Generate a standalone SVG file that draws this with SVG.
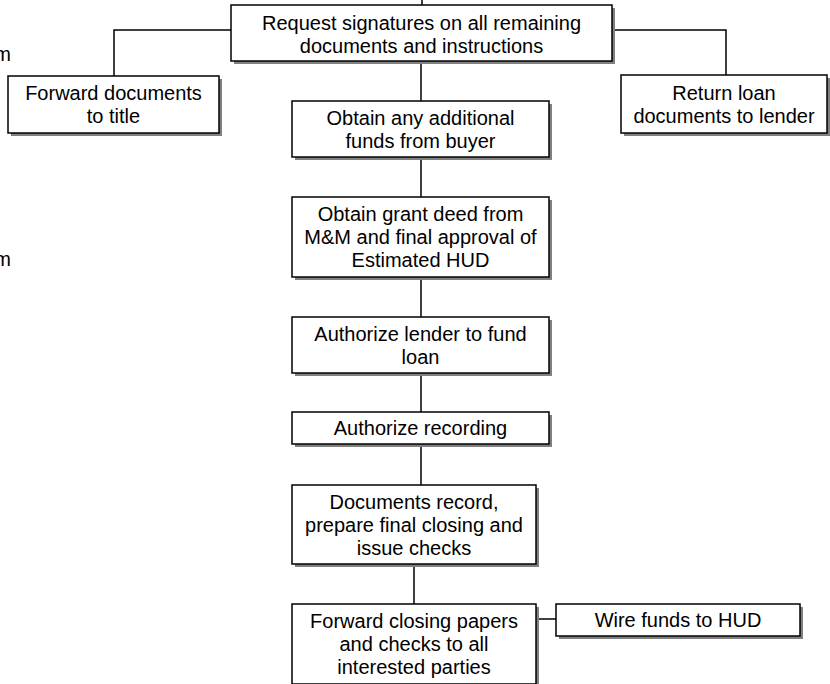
<svg xmlns="http://www.w3.org/2000/svg" width="830" height="684" viewBox="0 0 830 684">
<style>
.sh{fill:#808080;stroke:none}
.bx{fill:#fff;stroke:#000;stroke-width:1.5}
.t{font-family:"Liberation Sans",Arial,sans-serif;font-size:20px;fill:#000;text-anchor:middle}
.c{fill:none;stroke:#000;stroke-width:1.5}
</style>
<rect width="830" height="684" fill="#fff"/>
<text x="11" y="61" class="t" style="text-anchor:end">m</text>
<text x="11" y="266" class="t" style="text-anchor:end">m</text>
<g id="connectors">
<path class="c" d="M422,0 V5"/>
<path class="c" d="M231,30 H114 V76"/>
<path class="c" d="M612,30 H726 V75"/>
<path class="c" d="M421,61 V101"/>
<path class="c" d="M421,157 V197"/>
<path class="c" d="M421,277 V317"/>
<path class="c" d="M421,373 V412"/>
<path class="c" d="M421,444 V485"/>
<path class="c" d="M414,564 V604"/>
<path class="c" d="M536,619 H556"/>
</g>
<g id="n-request">
<rect class="sh" x="234" y="8" width="381" height="56"/>
<rect class="bx" x="231" y="5" width="381" height="56"/>
<text class="t" x="421.5" y="29.5">Request signatures on all remaining</text>
<text class="t" x="421.5" y="52.5">documents and instructions</text>
</g>
<g id="n-forward-title">
<rect class="sh" x="11" y="79" width="211" height="57"/>
<rect class="bx" x="8" y="76" width="211" height="57"/>
<text class="t" x="113.5" y="100">Forward documents</text>
<text class="t" x="113.5" y="123">to title</text>
</g>
<g id="n-return">
<rect class="sh" x="624" y="78" width="206" height="58"/>
<rect class="bx" x="621" y="75" width="206" height="58"/>
<text class="t" x="724" y="100">Return loan</text>
<text class="t" x="724" y="123">documents to lender</text>
</g>
<g id="n-funds">
<rect class="sh" x="295" y="104" width="257" height="56"/>
<rect class="bx" x="292" y="101" width="257" height="56"/>
<text class="t" x="420.5" y="124.5">Obtain any additional</text>
<text class="t" x="420.5" y="147.5">funds from buyer</text>
</g>
<g id="n-grant">
<rect class="sh" x="295" y="200" width="257" height="80"/>
<rect class="bx" x="292" y="197" width="257" height="80"/>
<text class="t" x="420.5" y="221">Obtain grant deed from</text>
<text class="t" x="420.5" y="244">M&amp;M and final approval of</text>
<text class="t" x="420.5" y="267">Estimated HUD</text>
</g>
<g id="n-authorize-lender">
<rect class="sh" x="295" y="320" width="257" height="56"/>
<rect class="bx" x="292" y="317" width="257" height="56"/>
<text class="t" x="420.5" y="340.5">Authorize lender to fund</text>
<text class="t" x="420.5" y="363.5">loan</text>
</g>
<g id="n-recording">
<rect class="sh" x="295" y="415" width="257" height="32"/>
<rect class="bx" x="292" y="412" width="257" height="32"/>
<text class="t" x="420.5" y="435">Authorize recording</text>
</g>
<g id="n-documents">
<rect class="sh" x="295" y="488" width="244" height="79"/>
<rect class="bx" x="292" y="485" width="244" height="79"/>
<text class="t" x="414" y="508.5">Documents record,</text>
<text class="t" x="414" y="531.5">prepare final closing and</text>
<text class="t" x="414" y="554.5">issue checks</text>
</g>
<g id="n-closing">
<rect class="sh" x="295" y="607" width="244" height="80"/>
<rect class="bx" x="292" y="604" width="244" height="80"/>
<text class="t" x="414" y="628">Forward closing papers</text>
<text class="t" x="414" y="651">and checks to all</text>
<text class="t" x="414" y="674">interested parties</text>
</g>
<g id="n-wire">
<rect class="sh" x="559" y="607" width="244" height="32"/>
<rect class="bx" x="556" y="604" width="244" height="32"/>
<text class="t" x="678" y="627">Wire funds to HUD</text>
</g>
</svg>
